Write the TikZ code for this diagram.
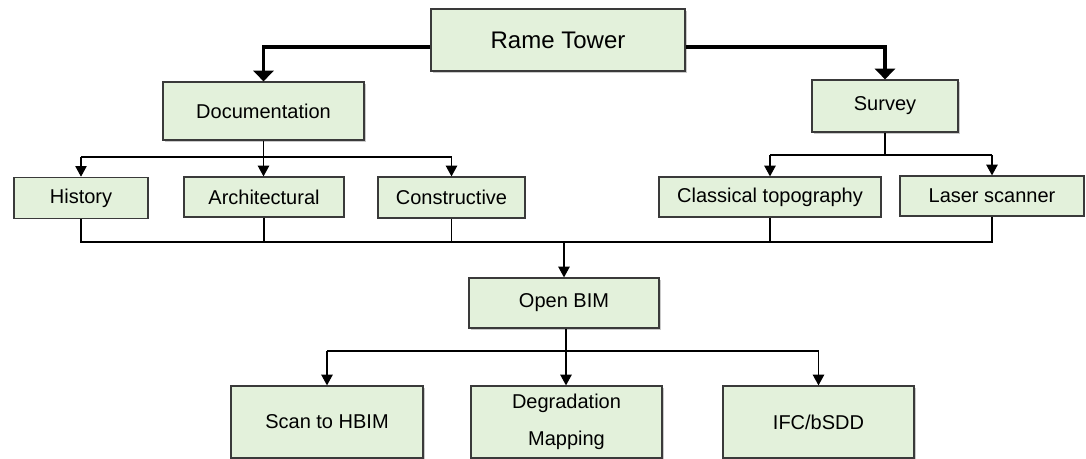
\documentclass[tikz,border=0pt]{standalone}
\usepackage{fontspec}
\setmainfont{Liberation Sans}
\usetikzlibrary{arrows.meta,shadows}

\definecolor{boxfill}{HTML}{E3F1DB}
\definecolor{boxline}{HTML}{3A3A3A}

\tikzset{
  box/.style={draw=boxline, line width=0.9pt, fill=boxfill, inner sep=0pt,
    align=center, font=\fontsize{15}{28}\selectfont},
  shadowed/.style={drop shadow={shadow xshift=1.8pt, shadow yshift=-1.8pt,
    opacity=0.35, fill=black!60}},
  link/.style={line width=0.95pt, draw=black},
  linkarrow/.style={link, -{Triangle[width=8.5pt,length=8pt]}},
  mainarrow/.style={line width=2.6pt, draw=black,
    -{Triangle[width=15pt,length=8pt]}},
}

\begin{document}
\begin{tikzpicture}[x=0.75pt, y=-0.75pt]
  \useasboundingbox (0,0) rectangle (1086,459);

  % root
  \node[box, shadowed, minimum width=190.5pt, minimum height=46.5pt,
        font=\fontsize{18}{22}\selectfont] (rame) at (558,40) {Rame Tower};

  % first level
  \node[box, shadowed, minimum width=150.75pt, minimum height=43.5pt] (doc) at (263.5,111) {Documentation};
  \node[box, shadowed, minimum width=109.5pt, minimum height=39pt] (survey) at (885,106) {Survey};

  % second level
  \node[box, minimum width=100.5pt, minimum height=31pt] (hist) at (81,198) {History};
  \node[box, minimum width=120pt, minimum height=30pt] (arch) at (264,197) {Architectural};
  \node[box, minimum width=110.25pt, minimum height=30.75pt] (cons) at (451.5,197.5) {Constructive};
  \node[box, minimum width=166.5pt, minimum height=30pt] (topo) at (770,197) {Classical topography};
  \node[box, minimum width=138pt, minimum height=30pt] (laser) at (992,196) {Laser scanner};

  % BIM stage
  \node[box, shadowed, minimum width=142.5pt, minimum height=37.5pt] (bim) at (564,303) {Open BIM};
  \node[box, shadowed, minimum width=144pt, minimum height=54pt] (scan) at (327,422) {Scan to HBIM};
  \node[box, shadowed, minimum width=143.25pt, minimum height=54pt] (degr) at (566.5,422) {Degradation\\Mapping};
  \node[box, shadowed, minimum width=143.25pt, minimum height=54pt] (ifc) at (818.5,422) {IFC/bSDD};

  % junction points
  \coordinate (docj) at (263.5,157);
  \coordinate (survj) at (885,155);
  \coordinate (bus) at (0,242);
  \coordinate (bimj) at (566,351);

  % root to first level
  \draw[mainarrow] ([yshift=-5.25pt]rame.west) -| (doc.north);
  \draw[mainarrow] ([yshift=-5.25pt]rame.east) -| (survey.north);

  % documentation branches
  \draw[link] (doc.south) -- (docj);
  \draw[link] (hist.north |- docj) -- (cons.north |- docj);
  \draw[linkarrow] (hist.north |- docj) -- (hist.north);
  \draw[linkarrow] (docj) -- (docj |- arch.north);
  \draw[linkarrow] (cons.north |- docj) -- (cons.north);

  % survey branches
  \draw[link] (survey.south) -- (survj);
  \draw[link] (topo.north |- survj) -- (laser.north |- survj);
  \draw[linkarrow] (topo.north |- survj) -- (topo.north);
  \draw[linkarrow] (laser.north |- survj) -- (laser.north);

  % collector bus into Open BIM
  \draw[link] (hist.south) -- (hist.south |- bus) -- (laser.south |- bus) -- (laser.south);
  \draw[link] (arch.south) -- (arch.south |- bus);
  \draw[link] (cons.south) -- (cons.south |- bus);
  \draw[link] (topo.south) -- (topo.south |- bus);
  \draw[linkarrow] (bim.north |- bus) -- (bim.north);

  % Open BIM outputs
  \draw[link] (bimj |- bim.south) -- (bimj);
  \draw[link] (scan.north |- bimj) -- (ifc.north |- bimj);
  \draw[linkarrow] (scan.north |- bimj) -- (scan.north);
  \draw[linkarrow] (bimj) -- (bimj |- degr.north);
  \draw[linkarrow] (ifc.north |- bimj) -- (ifc.north);
\end{tikzpicture}
\end{document}
